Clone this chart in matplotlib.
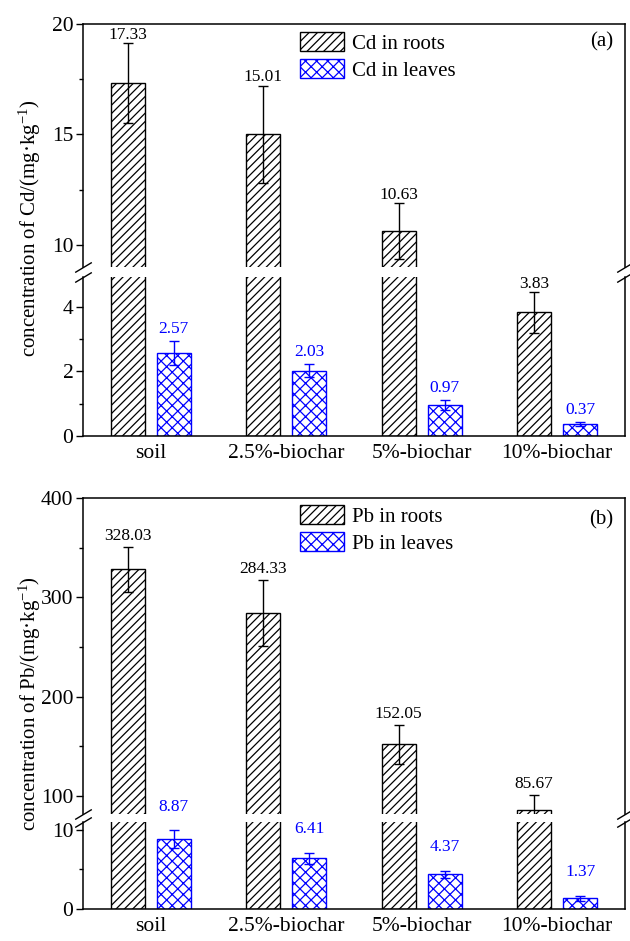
import numpy as np
import matplotlib
matplotlib.use("Agg")
import matplotlib.pyplot as plt
from matplotlib.ticker import FixedLocator

plt.rcParams['font.family'] = ['Liberation Serif', 'DejaVu Serif']
plt.rcParams['mathtext.fontset'] = 'custom'
plt.rcParams['mathtext.rm'] = 'Liberation Serif'
plt.rcParams['mathtext.it'] = 'Liberation Serif:italic'
plt.rcParams['hatch.linewidth'] = 0.9

# data
categories = ['soil', '2.5%-biochar', '5%-biochar', '10%-biochar']

cd_roots = [17.33, 15.01, 10.63, 3.83]
cd_roots_err = [1.8, 2.2, 1.25, 0.64]
cd_leaves = [2.57, 2.03, 0.97, 0.37]
cd_leaves_err = [0.38, 0.2, 0.15, 0.05]

pb_roots = [328.03, 284.33, 152.05, 85.67]
pb_roots_err = [22.7, 33.0, 19.4, 15.0]
pb_leaves = [8.87, 6.41, 4.37, 1.37]
pb_leaves_err = [1.1, 0.7, 0.45, 0.3]

BLUE = '#0000ff'
W, H = 630, 941

fig = plt.figure(figsize=(6.3, 9.41), dpi=100)


def px_axes(left, top, right, bottom):
    # pixel box -> figure fraction
    return fig.add_axes([left / W, 1 - bottom / H, (right - left) / W, (bottom - top) / H])


def panel(top_box, bot_box, roots, roots_err, leaves, leaves_err, metal,
          top_lim, bot_lim, top_major, top_minor, bot_major, bot_minor,
          letter, off_roots, off_leaves, ylab_y, leg_y, letter_y):
    axt = px_axes(*top_box)
    axb = px_axes(*bot_box)
    x = np.arange(len(categories))
    w = 0.25
    for ax in (axt, axb):
        ax.bar(x - 0.17, roots, w, facecolor='white', edgecolor='black',
               hatch='////', linewidth=1.0, label=metal + ' in roots')
        ax.bar(x + 0.17, leaves, w, facecolor='white', edgecolor=BLUE,
               hatch='xxx', linewidth=1.0, label=metal + ' in leaves')
        ax.errorbar(x - 0.17, roots, yerr=roots_err, fmt='none', ecolor='black',
                    elinewidth=1.0, capsize=3.3, capthick=1.0)
        ax.errorbar(x + 0.17, leaves, yerr=leaves_err, fmt='none', ecolor=BLUE,
                    elinewidth=1.0, capsize=3.3, capthick=1.0)
        ax.set_xlim(-0.5, 3.5)
        for s in ax.spines.values():
            s.set_linewidth(1.1)
        ax.tick_params(axis='y', which='major', direction='out', length=5, width=1,
                       labelsize=15.5, pad=2)
        ax.tick_params(axis='y', which='minor', direction='out', length=3, width=1)
        ax.tick_params(axis='x', length=0)

    axt.set_ylim(*top_lim)
    axb.set_ylim(*bot_lim)
    axt.yaxis.set_major_locator(FixedLocator(top_major))
    axt.yaxis.set_minor_locator(FixedLocator(top_minor))
    axb.yaxis.set_major_locator(FixedLocator(bot_major))
    axb.yaxis.set_minor_locator(FixedLocator(bot_minor))
    axt.spines['bottom'].set_visible(False)
    axb.spines['top'].set_visible(False)
    axt.set_xticks([])
    axb.set_xticks(x)
    axb.set_xticklabels(categories, fontsize=15.5)
    axb.tick_params(axis='x', pad=6)

    # value labels
    for i in range(len(categories)):
        top_r = roots[i] + roots_err[i]
        ax = axb if top_r < bot_lim[1] else axt
        ax.annotate('%.2f' % roots[i], (x[i] - 0.17, top_r), xytext=(0, off_roots),
                    textcoords='offset points', ha='center', va='baseline',
                    fontsize=12.5, color='black', annotation_clip=False)
        top_l = leaves[i] + leaves_err[i]
        axb.annotate('%.2f' % leaves[i], (x[i] + 0.17, top_l), xytext=(0, off_leaves),
                     textcoords='offset points', ha='center', va='baseline',
                     fontsize=12.5, color=BLUE, annotation_clip=False)

    # break marks
    d = 0.6
    kw = dict(marker=[(-1, -d), (1, d)], markersize=12, linestyle='none',
              color='black', mec='black', mew=1.0, clip_on=False)
    axt.plot([0, 1], [0, 0], transform=axt.transAxes, **kw)
    axb.plot([0, 1], [1, 1], transform=axb.transAxes, **kw)

    axt.legend(loc='upper left', bbox_to_anchor=(0.40, leg_y), frameon=False,
               fontsize=15, borderpad=0, handlelength=2.1, handleheight=1.05,
               labelspacing=0.25, handletextpad=0.42, borderaxespad=0)
    axt.text(0.978, letter_y, letter, transform=axt.transAxes, ha='right',
             va='center', fontsize=15)
    fig.text(0.048, ylab_y, 'concentration of %s/(mg·kg$^{-1}$)' % metal,
             rotation=90, ha='center', va='center', fontsize=15)
    return axt, axb


panel((83, 24, 625, 267), (83, 277, 625, 436), cd_roots, cd_roots_err,
      cd_leaves, cd_leaves_err, 'Cd', (9.0, 20), (0, 4.93),
      [10, 15, 20], [12.5, 17.5], [0, 2, 4], [1, 3],
      '(a)', 3, 6, 0.757, 0.967, 0.926)

panel((83, 498, 625, 814), (83, 822, 625, 909), pb_roots, pb_roots_err,
      pb_leaves, pb_leaves_err, 'Pb', (81.8, 400), (0, 11.0),
      [100, 200, 300, 400], [150, 250, 350], [0, 10], [5],
      '(b)', 5, 14, 0.252, 0.978, 0.93)

fig.savefig('out.png', dpi=100)
